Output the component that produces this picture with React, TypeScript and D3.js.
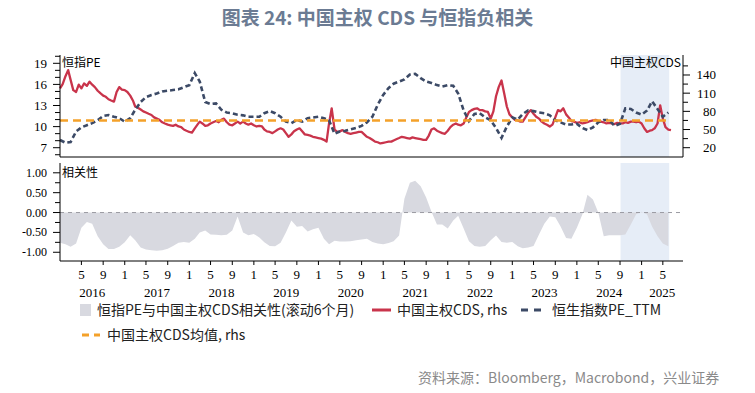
import * as d3 from "d3";

// monthly series start Jan 2016
const startMonth = new Date(2016, 0, 1);

// 恒生指数PE_TTM, monthly
const peValues = [
  8.1, 7.7, 7.8, 9.3, 9.9, 10.2, 10.5, 10.9, 11.5, 11.65,
  11.4, 11.2, 10.7, 11.2, 12.4, 13.5, 14.2, 14.5, 14.7, 15.0,
  15.1, 15.2, 15.3, 15.6, 15.9, 17.6, 16.4, 13.5, 13.2, 13.3,
  12.4, 12.0, 11.9, 11.7, 11.6, 11.4, 11.4, 11.4, 11.9, 12.2,
  11.9, 11.4, 10.7, 10.5, 10.95, 10.7, 11.2, 11.3, 11.4, 11.2,
  10.9, 9.0, 9.3, 9.4, 9.6, 9.8, 10.1, 10.6, 11.4, 13.1,
  14.5, 15.5, 16.1, 16.4, 16.7, 17.4, 17.5, 16.9, 16.4, 16.2,
  15.9, 15.7, 15.9, 15.8, 14.7, 12.3, 10.8, 11.8, 11.9, 11.3,
  10.9, 9.8, 8.4, 10.0, 11.3, 11.0, 11.8, 12.3, 12.2, 12.0,
  11.9, 11.6, 10.9, 10.6, 10.3, 10.3, 10.4, 9.8, 9.5, 9.9,
  10.6, 10.95, 10.95, 10.1, 10.4, 12.6, 12.5, 12.0, 11.7, 12.3,
  13.6, 12.5, 11.4, 12.0,
];

// 中国主权CDS, twice a month (1st and 16th)
const cdsValues = [
  118, 125, 138, 148, 132, 115, 112, 124, 118, 126, 122, 129,
  124, 120, 114, 110, 106, 104, 100, 98, 96, 112, 120, 116,
  115, 112, 106, 98, 88, 86, 83, 80, 78, 76, 74, 70,
  68, 66, 62, 60, 58, 57, 56, 58, 55, 54, 50, 48,
  46, 45, 52, 58, 63, 60, 56, 57, 60, 62, 64, 62,
  66, 68, 62, 58, 57, 60, 63, 60, 63, 60, 58, 60,
  57, 55, 56, 55, 50, 47, 46, 44, 47, 50, 52, 50,
  44, 38, 42, 47, 50, 52, 47, 42, 41, 40, 38, 37,
  36, 35, 33, 30, 60, 85, 50, 46, 47, 49, 46, 44,
  43, 44, 45, 46, 46, 42, 38, 36, 33, 30, 29, 27,
  28, 29, 30, 30, 32, 34, 36, 38, 37, 36, 35, 37,
  36, 35, 34, 33, 33, 40, 50, 52, 48, 46, 44, 43,
  48, 54, 58, 60, 58, 57, 60, 70, 79, 82, 84, 85,
  82, 82, 80, 79, 68, 80, 105, 120, 131, 110, 88, 75,
  70, 66, 65, 63, 63, 70, 78, 82, 76, 71, 68, 63,
  60, 58, 55, 58, 70, 82, 80, 85, 75, 70, 64, 63,
  61, 62, 60, 61, 62, 64, 65, 66, 64, 63, 62, 60,
  61, 60, 59, 61, 60, 60, 62, 61, 63, 63, 62, 63,
  60, 52, 46, 48, 49, 52, 60, 90, 68, 54, 50, 49,
];

// 恒指PE与中国主权CDS相关性(滚动6个月), monthly
const corrValues = [
  -0.76, -0.8, -0.86, -0.78, -0.38, -0.24, -0.28, -0.6, -0.8, -0.92,
  -0.92, -0.86, -0.75, -0.57, -0.7, -0.88, -0.93, -0.95, -0.96, -0.95,
  -0.91, -0.84, -0.76, -0.74, -0.76, -0.66, -0.5, -0.45, -0.55, -0.56,
  -0.57, -0.56, -0.45, -0.1, -0.5, -0.57, -0.54, -0.63, -0.75, -0.84,
  -0.85, -0.76, -0.5, -0.2, -0.36, -0.34, -0.48, -0.42, -0.38, -0.66,
  -0.8, -0.71, -0.73, -0.73, -0.72, -0.7, -0.68, -0.66, -0.74, -0.78,
  -0.8, -0.77, -0.72, -0.58, 0.35, 0.75, 0.8, 0.66, 0.38, 0.02,
  -0.3, -0.3, -0.4, -0.2, -0.08, -0.4, -0.72, -0.84, -0.86, -0.84,
  -0.7, -0.58, -0.74, -0.76, -0.74, -0.85, -0.9, -0.88, -0.84, -0.55,
  -0.28, -0.1, -0.12, -0.35, -0.64, -0.66, -0.38, -0.05, 0.45, 0.33,
  0.0, -0.6, -0.57, -0.57, -0.57, -0.55, -0.3, -0.04, 0.02, -0.05,
  -0.35, -0.6, -0.78, -0.85,
];

const cdsMean = 65;
const highlightRange = [new Date(2024, 8, 4), new Date(2025, 5, 6)];

const leftTicks = [7, 10, 13, 16, 19];
const rightTicks = [20, 50, 80, 110, 140];
const corrTicks = [1, 0.5, 0, -0.5, -1];
const years = [2016, 2017, 2018, 2019, 2020, 2021, 2022, 2023, 2024, 2025];

const legendItems = [
  { label: "恒指PE与中国主权CDS相关性(滚动6个月)", kind: "area" },
  { label: "中国主权CDS, rhs", kind: "red" },
  { label: "恒生指数PE_TTM", kind: "navy" },
  { label: "中国主权CDS均值, rhs", kind: "orange" },
];

const RED = "#c9344b";
const NAVY = "#3c4a66";
const ORANGE = "#f4a12a";
const AREA = "#d8d9e0";
const HIGHLIGHT = "#e6edf7";
const SERIF = "'Liberation Serif', 'Times New Roman', serif";
const CJK = "'Noto Sans CJK SC', sans-serif";

export default function App() {
  const W = 755;
  const H = 393;
  const left = 60;
  const right = 683;
  const top1 = 55;
  const bot1 = 157;
  const top2 = 163;
  const bot2 = 261;

  const monthly = (i: number) => d3.timeMonth.offset(startMonth, i);
  const halfMonthly = (k: number) =>
    d3.timeDay.offset(d3.timeMonth.offset(startMonth, Math.floor(k / 2)), (k % 2) * 15);

  const pe = peValues.map((v, i) => ({ d: monthly(i), v }));
  const cds = cdsValues.map((v, k) => ({ d: halfMonthly(k), v }));
  const corr = corrValues.map((v, i) => ({ d: monthly(i), v }));

  const endDate = new Date(2025, 7, 23);
  const x = d3.scaleTime().domain([startMonth, endDate]).range([left, right]);
  const yL = d3.scaleLinear().domain([5.68, 20.18]).range([bot1, top1]);
  const yR = d3.scaleLinear().domain([4.65, 173]).range([bot1, top1]);
  const yC = d3.scaleLinear().domain([-1.22, 1.247]).range([bot2, top2]);

  const peLine = d3.line<{ d: Date; v: number }>().x((p) => x(p.d)).y((p) => yL(p.v));
  const cdsLine = d3.line<{ d: Date; v: number }>().x((p) => x(p.d)).y((p) => yR(p.v));
  const corrArea = d3
    .area<{ d: Date; v: number }>()
    .x((p) => x(p.d))
    .y0(yC(0))
    .y1((p) => yC(p.v));

  const firstDate = cds[0].d;
  const lastDate = cds[cds.length - 1].d;

  const leftMinor = d3.range(6, 21);
  const rightMinor = d3.range(20, 170, 15);
  const corrMinor = d3.range(-1, 1.01, 0.25);
  const monthTicks = x.ticks(d3.timeMonth.every(4)!).filter((d) => d > startMonth);

  const hx0 = x(highlightRange[0]);
  const hx1 = x(highlightRange[1]);

  const legendX = [80, 372, 521, 82];
  const legendY = [310, 310, 310, 335];

  return (
    <svg
      width={W}
      height={H}
      style={{ position: "absolute", left: 0, top: 0, background: "#fff" }}
    >
      <text
        x={W / 2}
        y={25}
        textAnchor="middle"
        fontFamily={CJK}
        fontWeight="bold"
        fontSize={19}
        fill="#6b7b93"
      >
        图表 24: 中国主权 CDS 与恒指负相关
      </text>

      {/* highlight */}
      <rect x={hx0} y={top1} width={hx1 - hx0} height={bot1 - top1} fill={HIGHLIGHT} />
      <rect x={hx0} y={top2} width={hx1 - hx0} height={bot2 - top2} fill={HIGHLIGHT} />

      {/* top panel */}
      <path d={cdsLine(cds) ?? ""} fill="none" stroke={RED} strokeWidth={2.3} strokeLinejoin="round" />
      <path
        d={peLine(pe) ?? ""}
        fill="none"
        stroke={NAVY}
        strokeWidth={2.6}
        strokeDasharray="5,3"
      />
      <line
        x1={x(firstDate)}
        x2={x(lastDate)}
        y1={yR(cdsMean)}
        y2={yR(cdsMean)}
        stroke={ORANGE}
        strokeWidth={2.5}
        strokeDasharray="8,5"
      />

      <g stroke="#000" strokeWidth={1}>
        <line x1={left} x2={left} y1={top1} y2={bot1} />
        <line x1={left} x2={right} y1={bot1} y2={bot1} />
        <line x1={right} x2={right} y1={top1} y2={bot1} />
        {leftMinor.map((v) => (
          <line key={`lm${v}`} x1={left - (leftTicks.includes(v) ? 7 : 5)} x2={left} y1={yL(v)} y2={yL(v)} />
        ))}
        {rightMinor.map((v) => (
          <line key={`rm${v}`} x1={right} x2={right + (rightTicks.includes(v) ? 7 : 5)} y1={yR(v)} y2={yR(v)} />
        ))}
      </g>
      {leftTicks.map((v) => (
        <text key={`lt${v}`} x={47} y={yL(v) + 4.5} textAnchor="end" fontFamily={SERIF} fontSize={13}>
          {v}
        </text>
      ))}
      {rightTicks.map((v) => (
        <text key={`rt${v}`} x={716} y={yR(v) + 4.5} textAnchor="end" fontFamily={SERIF} fontSize={13}>
          {v}
        </text>
      ))}
      <text x={left + 2} y={67} fontFamily={CJK} fontSize={12}>
        恒指PE
      </text>
      <text x={right - 2} y={67} textAnchor="end" fontFamily={CJK} fontSize={12}>
        中国主权CDS
      </text>

      {/* bottom panel */}
      <path d={corrArea(corr) ?? ""} fill={AREA} />
      <line
        x1={left}
        x2={680}
        y1={yC(0)}
        y2={yC(0)}
        stroke="#9a9aa2"
        strokeWidth={1}
        strokeDasharray="4,4"
      />
      <g stroke="#000" strokeWidth={1}>
        <line x1={left} x2={left} y1={top2} y2={bot2} />
        <line x1={left} x2={right} y1={bot2} y2={bot2} />
        {corrMinor.map((v) => (
          <line key={`cm${v}`} x1={left - (Math.abs(v * 2 - Math.round(v * 2)) < 0.01 ? 7 : 5)} x2={left} y1={yC(v)} y2={yC(v)} />
        ))}
        {monthTicks.map((d) => (
          <line key={`xt${+d}`} x1={x(d)} x2={x(d)} y1={bot2} y2={bot2 + 4} />
        ))}
      </g>
      {corrTicks.map((v) => (
        <text key={`ct${v}`} x={47} y={yC(v) + 4} textAnchor="end" fontFamily={SERIF} fontSize={12}>
          {v.toFixed(2)}
        </text>
      ))}
      <text x={left + 2} y={177} fontFamily={CJK} fontSize={12}>
        相关性
      </text>

      {/* x axis labels */}
      {monthTicks.map((d) => (
        <text key={`xl${+d}`} x={x(d)} y={279} textAnchor="middle" fontFamily={SERIF} fontSize={13}>
          {d.getMonth() + 1}
        </text>
      ))}
      {years.map((yr) => {
        const a = d3.max([new Date(yr, 0, 1), startMonth])!;
        const b = d3.min([new Date(yr + 1, 0, 1), endDate])!;
        return (
          <text key={`yr${yr}`} x={(x(a) + x(b)) / 2} y={297} textAnchor="middle" fontFamily={SERIF} fontSize={13}>
            {yr}
          </text>
        );
      })}

      {/* legend */}
      {legendItems.map((item, i) => {
        const lx = legendX[i];
        const ly = legendY[i];
        let mark;
        if (item.kind === "area") mark = <rect x={lx} y={ly - 6} width={11} height={12} fill={AREA} />;
        else if (item.kind === "red")
          mark = <line x1={lx} x2={lx + 19} y1={ly} y2={ly} stroke={RED} strokeWidth={3} />;
        else if (item.kind === "navy")
          mark = <line x1={lx} x2={lx + 24} y1={ly} y2={ly} stroke={NAVY} strokeWidth={3} strokeDasharray="7,6" />;
        else mark = <line x1={lx} x2={lx + 18} y1={ly} y2={ly} stroke={ORANGE} strokeWidth={3} strokeDasharray="7,5" />;
        const tx = item.kind === "area" ? lx + 17 : item.kind === "navy" ? lx + 31 : lx + 25;
        return (
          <g key={item.label}>
            {mark}
            <text x={tx} y={ly + 5} fontFamily={CJK} fontSize={14} fill="#222">
              {item.label}
            </text>
          </g>
        );
      })}

      <text x={418} y={383} fontFamily={CJK} fontSize={14} fill="#8a8a8a">
        资料来源：Bloomberg，Macrobond，兴业证券
      </text>
    </svg>
  );
}
